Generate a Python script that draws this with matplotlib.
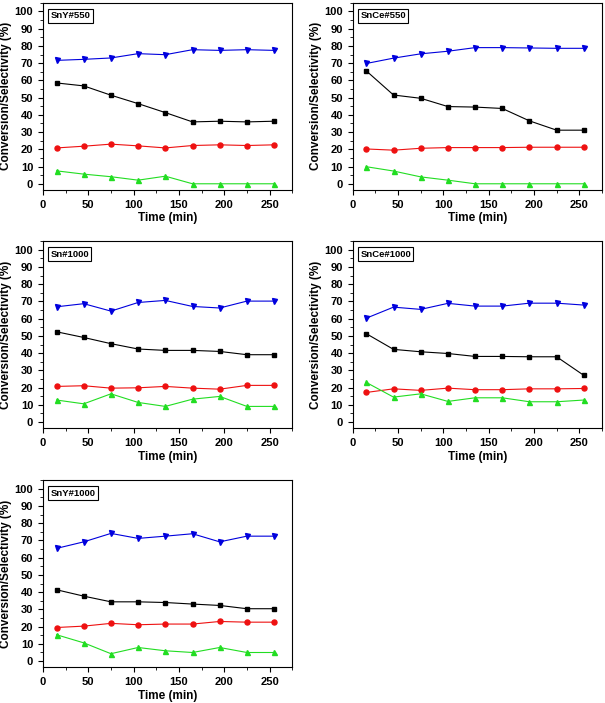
import numpy as np
import matplotlib
matplotlib.use('Agg')
import matplotlib.pyplot as plt
from matplotlib.ticker import MultipleLocator

plt.rcParams['font.family'] = ['Liberation Sans', 'DejaVu Sans']
plt.rcParams['font.weight'] = 'bold'

time = [15, 45, 75, 105, 135, 165, 195, 225, 255]

samples = ['SnY#550', 'SnCe#550', 'Sn#1000', 'SnCe#1000', 'SnY#1000']

# black squares
conv = [
    [58.5, 56.8, 51.4, 46.5, 41.3, 35.9, 36.3, 35.9, 36.3],
    [65.5, 51.5, 49.6, 44.8, 44.5, 43.7, 36.5, 31.1, 31.1],
    [52.4, 49.1, 45.5, 42.4, 41.6, 41.6, 41.0, 39.1, 39.1],
    [51.3, 42.2, 40.8, 39.8, 38.1, 38.1, 37.9, 37.9, 27.1],
    [41.4, 37.7, 34.4, 34.4, 34.0, 33.1, 32.3, 30.4, 30.4],
]
# red circles
sel_red = [
    [20.8, 21.8, 23.0, 22.0, 20.8, 22.2, 22.6, 22.2, 22.6],
    [20.2, 19.5, 20.6, 21.0, 21.0, 21.0, 21.2, 21.2, 21.2],
    [20.7, 21.1, 19.7, 19.9, 20.7, 19.7, 19.1, 21.3, 21.3],
    [17.2, 19.3, 18.4, 19.7, 18.8, 18.8, 19.3, 19.3, 19.5],
    [19.5, 20.3, 21.9, 21.1, 21.5, 21.5, 23.0, 22.6, 22.6],
]
# blue down triangles
sel_blue = [
    [71.6, 72.2, 73.0, 75.5, 74.9, 77.8, 77.4, 77.8, 77.4],
    [69.8, 72.9, 75.4, 76.9, 79.0, 79.0, 78.8, 78.6, 78.6],
    [66.9, 68.7, 64.4, 69.4, 70.6, 67.1, 66.2, 70.2, 70.2],
    [60.3, 66.7, 65.4, 68.9, 67.3, 67.3, 69.0, 69.0, 67.9],
    [65.4, 69.2, 74.1, 71.2, 72.5, 73.9, 69.2, 72.5, 72.5],
]
# green up triangles
sel_green = [
    [7.5, 5.6, 4.1, 2.1, 4.4, 0, 0, 0, 0],
    [9.9, 7.4, 4.0, 2.1, 0, 0, 0, 0, 0],
    [12.8, 10.6, 16.4, 11.4, 9.1, 13.3, 14.9, 9.1, 9.1],
    [23.0, 14.5, 16.4, 12.0, 14.1, 14.1, 11.8, 11.8, 12.8],
    [15.3, 10.6, 4.3, 7.9, 6.0, 5.0, 7.9, 5.0, 5.0],
]

fig = plt.figure(figsize=(6.05, 7.03), dpi=100)

lefts = [0.071, 0.583]
bottoms = [0.730, 0.391, 0.051]
w, h = 0.412, 0.266

for i, name in enumerate(samples):
    row, col = i // 2, i % 2
    ax = fig.add_axes([lefts[col], bottoms[row], w, h])
    ax.plot(time, sel_blue[i], color='#0000dd', marker='v', ms=3.6, lw=0.8)
    ax.plot(time, conv[i], color='black', marker='s', ms=3.4, lw=0.8)
    ax.plot(time, sel_red[i], color='#ee1111', marker='o', ms=3.6, lw=0.8)
    ax.plot(time, sel_green[i], color='#22dd22', marker='^', ms=3.6, lw=0.8)

    ax.set_xlim(0, 275)
    ax.set_ylim(-3.5, 105)
    ax.xaxis.set_major_locator(MultipleLocator(50))
    ax.xaxis.set_minor_locator(MultipleLocator(25))
    ax.yaxis.set_major_locator(MultipleLocator(10))
    ax.yaxis.set_minor_locator(MultipleLocator(5))
    ax.tick_params(which='major', direction='out', length=3.5, width=0.8, labelsize=8)
    ax.tick_params(which='minor', direction='out', length=2, width=0.6)
    for s in ax.spines.values():
        s.set_linewidth(0.8)
    ax.set_xlabel('Time (min)', fontsize=8.5, fontweight='bold', labelpad=2)
    ax.set_ylabel('Conversion/Selectivity (%)', fontsize=8.5, fontweight='bold', labelpad=2)
    ax.text(0.03, 0.955, name, transform=ax.transAxes, fontsize=6.8, fontweight='bold',
            va='top', ha='left',
            bbox=dict(boxstyle='square,pad=0.25', fc='white', ec='black', lw=0.8))

fig.savefig('out.png', dpi=100)
